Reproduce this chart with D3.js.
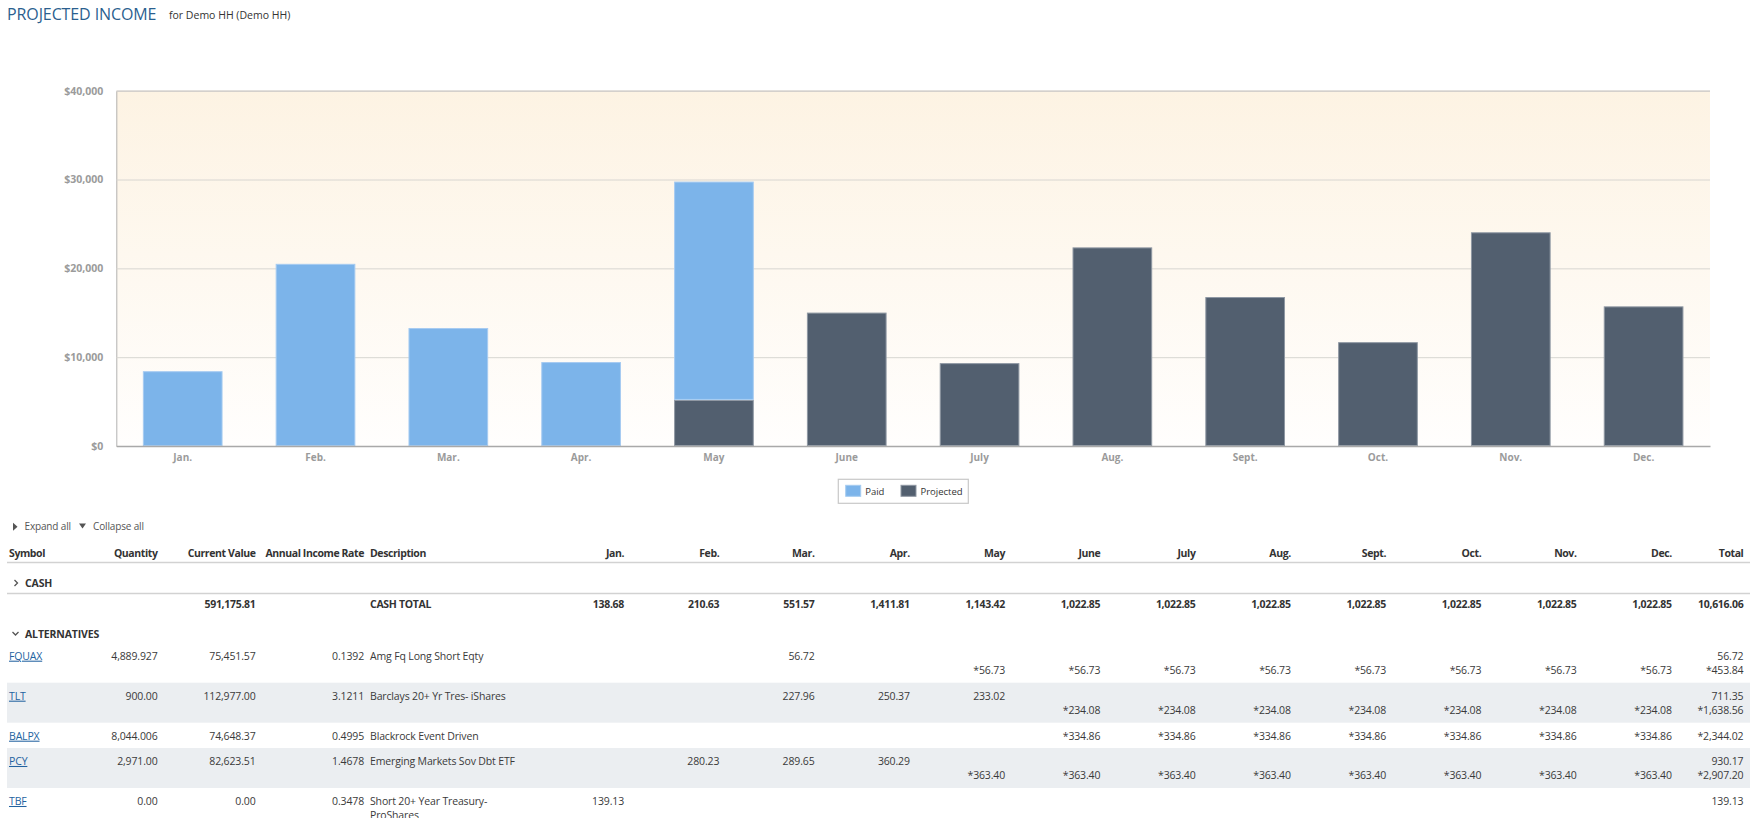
<!DOCTYPE html>
<html><head><meta charset="utf-8">
<script src="https://cdn.jsdelivr.net/npm/d3@7"></script>
<style>
html,body{margin:0;padding:0;background:#fff;overflow:hidden;}
svg{display:block;}
</style></head><body>
<svg id="c" width="1757" height="818"></svg>
<script>
// ---------- chart data ----------
const months = ["Jan.","Feb.","Mar.","Apr.","May","June","July","Aug.","Sept.","Oct.","Nov.","Dec."];
const paid =      [8420, 20510, 13280, 9450, 24580, 0, 0, 0, 0, 0, 0, 0];
const projected = [0, 0, 0, 0, 5190, 15020, 9330, 22360, 16770, 11690, 24060, 15720];
const yTicks = [0, 10000, 20000, 30000, 40000];
const seriesNames = ["Paid", "Projected"];
const seriesColors = ["#7cb4ea", "#525f6f"];
const seriesStrokes = ["#a6cbf1", "#8f98a3"];

// ---------- table data ----------
const tableHeaders = ["Symbol", "Quantity", "Current Value", "Annual Income Rate", "Description"];
const totalHeader = "Total";
const sections = ["CASH", "ALTERNATIVES"];
const cashCurrentValue = 591175.81;
const cashLabel = "CASH TOTAL";
const cashMonthly = [138.68, 210.63, 551.57, 1411.81, 1143.42, 1022.85, 1022.85, 1022.85, 1022.85, 1022.85, 1022.85, 1022.85];
const cashTotal = 10616.06;
const symbols = ["FQUAX", "TLT", "BALPX", "PCY", "TBF"];
const quantities = ["4,889.927", "900.00", "8,044.006", "2,971.00", "0.00"];
const currentValues = [75451.57, 112977.00, 74648.37, 82623.51, 0.00];
const incomeRates = ["0.1392", "3.1211", "0.4995", "1.4678", "0.3478"];
const descriptions = [
  ["Amg Fq Long Short Eqty"],
  ["Barclays 20+ Yr Tres- iShares"],
  ["Blackrock Event Driven"],
  ["Emerging Markets Sov Dbt ETF"],
  ["Short 20+ Year Treasury-", "ProShares"]
];
const _ = null;
const paidIncome = [
  [_, _, 56.72, _, _, _, _, _, _, _, _, _],
  [_, _, 227.96, 250.37, 233.02, _, _, _, _, _, _, _],
  [_, _, _, _, _, _, _, _, _, _, _, _],
  [_, 280.23, 289.65, 360.29, _, _, _, _, _, _, _, _],
  [139.13, _, _, _, _, _, _, _, _, _, _, _]
];
const projectedIncome = [
  [_, _, _, _, 56.73, 56.73, 56.73, 56.73, 56.73, 56.73, 56.73, 56.73],
  [_, _, _, _, _, 234.08, 234.08, 234.08, 234.08, 234.08, 234.08, 234.08],
  [_, _, _, _, _, 334.86, 334.86, 334.86, 334.86, 334.86, 334.86, 334.86],
  [_, _, _, _, 363.40, 363.40, 363.40, 363.40, 363.40, 363.40, 363.40, 363.40],
  [_, _, _, _, _, _, _, _, _, _, _, _]
];
const paidTotals = [56.72, 711.35, _, 930.17, 139.13];
const projectedTotals = [453.84, 1638.56, 2344.02, 2907.20, _];

// ---------- drawing ----------
const FONT = "'Open Sans', 'Noto Sans', sans-serif";
const svg = d3.select("#c").attr("font-family", FONT);
const fmt = d3.format(",.2f");

// title
svg.append("text").attr("x", 7).attr("y", 20).attr("font-size", "16px").attr("fill", "#2b5f8f")
  .attr("letter-spacing", "-0.1px").text("PROJECTED INCOME");
svg.append("text").attr("x", 169).attr("y", 18.5).attr("font-size", "10.5px").attr("fill", "#333")
  .text("for Demo HH (Demo HH)");

const plot = {l: 116.3, r: 1710, t: 90.7, b: 446};
const x = d3.scaleBand().domain(months).range([plot.l, plot.r]).paddingInner(0.4).paddingOuter(0.2);
const y = d3.scaleLinear().domain([0, 40000]).range([plot.b, plot.t]);

const defs = svg.append("defs");
const grad = defs.append("linearGradient").attr("id", "bg").attr("x1", 0).attr("y1", 0).attr("x2", 0).attr("y2", 1);
grad.append("stop").attr("offset", "0%").attr("stop-color", "#fdf3e3");
grad.append("stop").attr("offset", "100%").attr("stop-color", "#fffefd");
svg.append("rect").attr("x", plot.l).attr("y", plot.t).attr("width", plot.r - plot.l)
  .attr("height", plot.b - plot.t).attr("fill", "url(#bg)");

const ya = svg.append("g").attr("transform", `translate(${plot.l},0)`)
  .call(d3.axisLeft(y).tickValues(yTicks).tickSize(-(plot.r - plot.l)).tickPadding(13)
    .tickFormat(d => "$" + d3.format(",")(d)));
ya.select(".domain").attr("stroke", "#b3b3b3");
ya.selectAll(".tick line").attr("stroke", "#d8d6d1");
ya.selectAll(".tick text").attr("fill", "#9b9b9b").attr("font-weight", "bold")
  .attr("font-size", "10.5px").attr("font-family", FONT);

// stacked bars
const rows = months.map((m, i) => ({month: m, Projected: projected[i], Paid: paid[i]}));
const stack = d3.stack().keys(["Projected", "Paid"])(rows);
const colorOf = k => seriesColors[seriesNames.indexOf(k)];
const strokeOf = k => seriesStrokes[seriesNames.indexOf(k)];
svg.append("g").selectAll("g").data(stack).join("g")
  .attr("fill", s => colorOf(s.key)).attr("stroke", s => strokeOf(s.key)).attr("stroke-width", 1)
  .selectAll("rect").data(s => s.filter(d => d[1] - d[0] > 0)).join("rect")
  .attr("x", d => x(d.data.month) + 0.5)
  .attr("width", x.bandwidth() - 1)
  .attr("y", d => y(d[1]) + 0.5)
  .attr("height", d => y(d[0]) - y(d[1]) - 1);

const xa = svg.append("g").attr("transform", `translate(0,${plot.b})`)
  .call(d3.axisBottom(x).tickSize(0).tickPadding(8));
xa.select(".domain").attr("stroke", "#a9a9a9").attr("stroke-width", 1.5);
xa.selectAll(".tick text").attr("fill", "#9b9b9b").attr("font-weight", "bold")
  .attr("font-size", "10px").attr("font-family", FONT);

// legend
const lg = svg.append("g").attr("transform", "translate(838.3,479.3)");
lg.append("rect").attr("width", 130).attr("height", 24).attr("fill", "#fff").attr("stroke", "#c8c8c8").attr("stroke-width", 1.2);
const legendX = [7.4, 62.7];
seriesNames.forEach((n, i) => {
  lg.append("rect").attr("x", legendX[i]).attr("y", 6).attr("width", 15).attr("height", 11)
    .attr("fill", seriesColors[i]).attr("stroke", seriesStrokes[i]);
  lg.append("text").attr("x", legendX[i] + 19.5).attr("y", 12).attr("dy", "0.35em")
    .attr("font-size", "9.5px").attr("fill", "#333").text(n);
});

// ---------- table ----------
const T = svg.append("g").attr("font-size", "10.5px").attr("fill", "#3a3a3a").attr("letter-spacing", "-0.15px");
const mx = d3.scaleBand().domain(months).range([528.75, 1671.8]);
const monthRight = m => mx(m) + mx.bandwidth();
const totalRight = 1743.4;
const colRight = {Quantity: 157.5, "Current Value": 255.5, "Annual Income Rate": 364};
const colLeft = {Symbol: 9, Description: 370};
const tableL = 7, tableR = 1750;

// expand / collapse
T.append("path").attr("d", "M13,522.7 L17.5,526.7 L13,530.7 Z").attr("fill", "#555");
T.append("text").attr("x", 24.5).attr("y", 526.7).attr("dy", "0.35em").attr("font-size", "10px").attr("fill", "#555").text("Expand all");
T.append("path").attr("d", "M79,523.5 L86,523.5 L82.5,528.5 Z").attr("fill", "#555");
T.append("text").attr("x", 93).attr("y", 526.7).attr("dy", "0.35em").attr("font-size", "10px").attr("fill", "#555").text("Collapse all");

// header
const hy = 553.3;
const H = T.append("g").attr("font-weight", "bold").attr("fill", "#333").attr("letter-spacing", "-0.4px");
tableHeaders.forEach(h => {
  const t = H.append("text").attr("y", hy).attr("dy", "0.35em").text(h);
  if (colLeft[h] !== undefined) t.attr("x", colLeft[h]);
  else t.attr("x", colRight[h]).attr("text-anchor", "end");
});
months.forEach(m => H.append("text").attr("x", monthRight(m)).attr("y", hy).attr("dy", "0.35em")
  .attr("text-anchor", "end").text(m));
H.append("text").attr("x", totalRight).attr("y", hy).attr("dy", "0.35em").attr("text-anchor", "end").text(totalHeader);
T.append("line").attr("x1", tableL).attr("x2", tableR).attr("y1", 562.5).attr("y2", 562.5)
  .attr("stroke", "#d2d2d2").attr("stroke-width", 1.5);

// CASH section
T.append("path").attr("d", "M14.5,580 L17.5,583 L14.5,586").attr("fill", "none").attr("stroke", "#555").attr("stroke-width", 1.3);
T.append("text").attr("x", 25).attr("y", 583.3).attr("dy", "0.35em").attr("font-weight", "bold").attr("fill", "#333").text(sections[0]);
T.append("line").attr("x1", tableL).attr("x2", tableR).attr("y1", 593.5).attr("y2", 593.5)
  .attr("stroke", "#d2d2d2").attr("stroke-width", 1.5);
const cy = 604.3;
const C = T.append("g").attr("font-weight", "bold").attr("fill", "#333").attr("letter-spacing", "-0.3px");
C.append("text").attr("x", colRight["Current Value"]).attr("y", cy).attr("dy", "0.35em").attr("text-anchor", "end").text(fmt(cashCurrentValue));
C.append("text").attr("x", colLeft.Description).attr("y", cy).attr("dy", "0.35em").text(cashLabel);
months.forEach((m, i) => C.append("text").attr("x", monthRight(m)).attr("y", cy).attr("dy", "0.35em")
  .attr("text-anchor", "end").text(fmt(cashMonthly[i])));
C.append("text").attr("x", totalRight).attr("y", cy).attr("dy", "0.35em").attr("text-anchor", "end").text(fmt(cashTotal));

// ALTERNATIVES section
T.append("path").attr("d", "M12.5,632 L15.5,635 L18.5,632").attr("fill", "none").attr("stroke", "#555").attr("stroke-width", 1.3);
T.append("text").attr("x", 25).attr("y", 634).attr("dy", "0.35em").attr("font-weight", "bold").attr("fill", "#333").text(sections[1]);

let rowTop = 642.7;
symbols.forEach((s, i) => {
  const hasPaid = paidIncome[i].some(v => v !== null) || paidTotals[i] !== null;
  const hasProj = projectedIncome[i].some(v => v !== null) || projectedTotals[i] !== null;
  const lines = [];
  if (hasPaid) lines.push({vals: paidIncome[i], tot: paidTotals[i], pre: ""});
  if (hasProj) lines.push({vals: projectedIncome[i], tot: projectedTotals[i], pre: "*"});
  const n = Math.max(lines.length, descriptions[i].length);
  const h = n > 1 ? 40 : 25.3;
  const R = T.append("g");
  if (i % 2 === 1) R.append("rect").attr("x", tableL).attr("y", rowTop).attr("width", tableR - tableL).attr("height", h).attr("fill", "#ebeef1");
  const y0 = rowTop;
  const ly = k => y0 + 13.3 + k * 14;
  R.append("text").attr("x", colLeft.Symbol).attr("y", ly(0)).attr("dy", "0.35em").attr("fill", "#2362a0")
    .attr("text-decoration", "underline").text(s);
  R.append("text").attr("x", colRight.Quantity).attr("y", ly(0)).attr("dy", "0.35em").attr("text-anchor", "end").text(quantities[i]);
  R.append("text").attr("x", colRight["Current Value"]).attr("y", ly(0)).attr("dy", "0.35em").attr("text-anchor", "end").text(fmt(currentValues[i]));
  R.append("text").attr("x", colRight["Annual Income Rate"]).attr("y", ly(0)).attr("dy", "0.35em").attr("text-anchor", "end").text(incomeRates[i]);
  descriptions[i].forEach((d, k) => R.append("text").attr("x", colLeft.Description).attr("y", ly(k)).attr("dy", "0.35em").text(d));
  lines.forEach((L, k) => {
    months.forEach((m, j) => {
      if (L.vals[j] !== null) R.append("text").attr("x", monthRight(m)).attr("y", ly(k)).attr("dy", "0.35em")
        .attr("text-anchor", "end").text(L.pre + fmt(L.vals[j]));
    });
    if (L.tot !== null) R.append("text").attr("x", totalRight).attr("y", ly(k)).attr("dy", "0.35em")
      .attr("text-anchor", "end").text(L.pre + fmt(L.tot));
  });
  rowTop += h;
});
</script>
</body></html>
